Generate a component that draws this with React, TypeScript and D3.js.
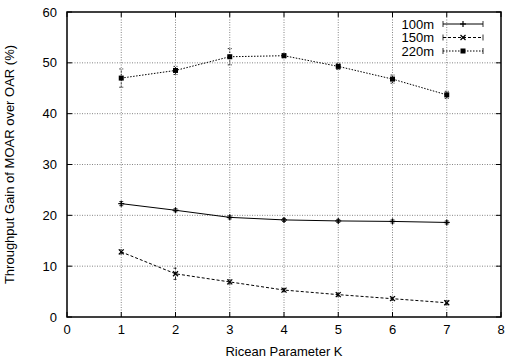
import {useMemo} from 'react'
import * as d3 from 'd3'

const WIDTH = 506
const HEIGHT = 360
const MARGIN = {top: 12, right: 5, bottom: 43, left: 67}

const kValues = [1, 2, 3, 4, 5, 6, 7]
const gain100 = [22.3, 21.0, 19.6, 19.1, 18.9, 18.8, 18.6]
const err100 = [0.4, 0.3, 0.3, 0.3, 0.3, 0.3, 0.3]
const gain150 = [12.8, 8.5, 6.9, 5.3, 4.4, 3.6, 2.8]
const err150 = [0.4, 1.1, 0.4, 0.3, 0.3, 0.3, 0.4]
const gain220 = [47.0, 48.5, 51.2, 51.4, 49.3, 46.8, 43.7]
const err220 = [1.8, 0.8, 1.6, 0.4, 0.6, 0.8, 0.7]

const xTicks = [0, 1, 2, 3, 4, 5, 6, 7, 8]
const yTicks = [0, 10, 20, 30, 40, 50, 60]

const FONT = '"Liberation Sans", Arial, sans-serif'

type Series = {name: string; values: number[]; errors: number[]; dash: string; marker: 'plus' | 'cross' | 'square'}

const series: Series[] = [
  {name: '100m', values: gain100, errors: err100, dash: '', marker: 'plus'},
  {name: '150m', values: gain150, errors: err150, dash: '3,2', marker: 'cross'},
  {name: '220m', values: gain220, errors: err220, dash: '1.5,1.5', marker: 'square'},
]

const Marker = ({type, x, y}: {type: string; x: number; y: number}) => {
  if (type === 'plus') {
    return (
      <g stroke="#000" strokeWidth={1.2}>
        <line x1={x - 3} x2={x + 3} y1={y} y2={y} />
        <line x1={x} x2={x} y1={y - 3} y2={y + 3} />
      </g>
    )
  }
  if (type === 'cross') {
    return (
      <g stroke="#000" strokeWidth={1.2}>
        <line x1={x - 2.5} x2={x + 2.5} y1={y - 2.5} y2={y + 2.5} />
        <line x1={x - 2.5} x2={x + 2.5} y1={y + 2.5} y2={y - 2.5} />
      </g>
    )
  }
  return <rect x={x - 2.5} y={y - 2.5} width={5} height={5} fill="#000" />
}

export default function App() {
  const boundsWidth = WIDTH - MARGIN.left - MARGIN.right
  const boundsHeight = HEIGHT - MARGIN.top - MARGIN.bottom

  const xScale = useMemo(() => d3.scaleLinear().domain([0, 8]).range([0, boundsWidth]), [boundsWidth])
  const yScale = useMemo(() => d3.scaleLinear().domain([0, 60]).range([boundsHeight, 0]), [boundsHeight])

  const lineGen = d3
    .line<number>()
    .x((_, i) => xScale(kValues[i]))
    .y(d => yScale(d))

  return (
    <svg width={WIDTH} height={HEIGHT} style={{position: 'absolute', left: 0, top: 0}}>
      <rect width={WIDTH} height={HEIGHT} fill="#fff" />
      <g transform={`translate(${MARGIN.left},${MARGIN.top})`} fontFamily={FONT}>
        {/* grid */}
        {xTicks.slice(1, -1).map(t => (
          <line key={'gx' + t} x1={xScale(t)} x2={xScale(t)} y1={0} y2={boundsHeight}
            stroke="#666" strokeWidth={0.8} strokeDasharray="1,1.5" />
        ))}
        {yTicks.slice(1, -1).map(t => (
          <line key={'gy' + t} x1={0} x2={boundsWidth} y1={yScale(t)} y2={yScale(t)}
            stroke="#666" strokeWidth={0.8} strokeDasharray="1,1.5" />
        ))}
        {/* tick marks, inward on all sides */}
        {xTicks.map(t => (
          <g key={'tx' + t} stroke="#000" strokeWidth={1}>
            <line x1={xScale(t)} x2={xScale(t)} y1={boundsHeight} y2={boundsHeight - 5} />
            <line x1={xScale(t)} x2={xScale(t)} y1={0} y2={5} />
          </g>
        ))}
        {yTicks.map(t => (
          <g key={'ty' + t} stroke="#000" strokeWidth={1}>
            <line x1={0} x2={5} y1={yScale(t)} y2={yScale(t)} />
            <line x1={boundsWidth} x2={boundsWidth - 5} y1={yScale(t)} y2={yScale(t)} />
          </g>
        ))}
        {/* tick labels */}
        {xTicks.map(t => (
          <text key={'lx' + t} x={xScale(t)} y={boundsHeight + 17} textAnchor="middle" fontSize={13} fill="#000">
            {t}
          </text>
        ))}
        {yTicks.map(t => (
          <text key={'ly' + t} x={-10} y={yScale(t) + 4.5} textAnchor="end" fontSize={13} fill="#000">
            {t}
          </text>
        ))}
        {/* series */}
        {series.map(s => (
          <g key={s.name}>
            <path d={lineGen(s.values) || ''} fill="none" stroke="#000" strokeWidth={1}
              strokeDasharray={s.dash || undefined} />
            {s.values.map((v, i) => {
              const x = xScale(kValues[i])
              const y0 = yScale(v - s.errors[i])
              const y1 = yScale(v + s.errors[i])
              return (
                <g key={i}>
                  <g stroke="#000" strokeWidth={0.8} strokeDasharray={s.dash || undefined}>
                    <line x1={x} x2={x} y1={y0} y2={y1} />
                    <line x1={x - 2} x2={x + 2} y1={y0} y2={y0} />
                    <line x1={x - 2} x2={x + 2} y1={y1} y2={y1} />
                  </g>
                  <Marker type={s.marker} x={x} y={yScale(v)} />
                </g>
              )
            })}
          </g>
        ))}
        {/* legend */}
        {series.map((s, i) => {
          const ly = 12 + i * 13.5
          const lx0 = 376
          const lx1 = 416
          return (
            <g key={'leg' + s.name}>
              <text x={367} y={ly + 4.5} textAnchor="end" fontSize={13} fill="#000">{s.name}</text>
              <line x1={lx0} x2={lx1} y1={ly} y2={ly} stroke="#000" strokeWidth={1} strokeDasharray={s.dash || undefined} />
              <line x1={lx0} x2={lx0} y1={ly - 3} y2={ly + 3} stroke="#000" strokeWidth={0.8} />
              <line x1={lx1} x2={lx1} y1={ly - 3} y2={ly + 3} stroke="#000" strokeWidth={0.8} />
              <Marker type={s.marker} x={(lx0 + lx1) / 2} y={ly} />
            </g>
          )
        })}
        {/* frame */}
        <rect x={0} y={0} width={boundsWidth} height={boundsHeight} fill="none" stroke="#000" strokeWidth={1.5} />
        {/* axis titles */}
        <text x={boundsWidth / 2} y={boundsHeight + 39} textAnchor="middle" fontSize={13} fill="#000">
          Ricean Parameter K
        </text>
        <text transform={`translate(${-53},${boundsHeight / 2}) rotate(-90)`} textAnchor="middle" fontSize={13} fill="#000">
          Throughput Gain of MOAR over OAR (%)
        </text>
      </g>
    </svg>
  )
}
